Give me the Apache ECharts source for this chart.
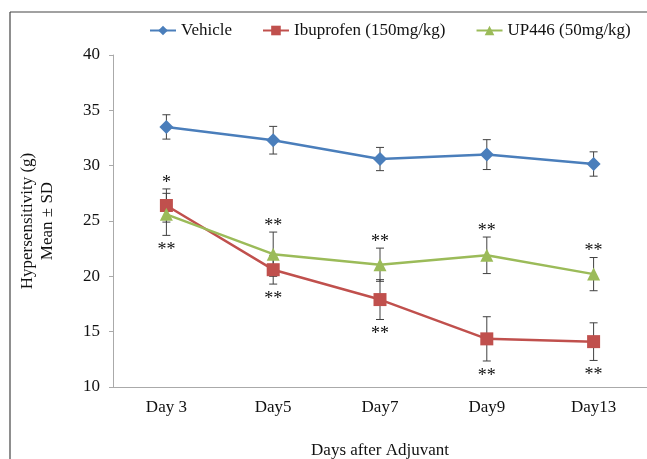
<!DOCTYPE html>
<html>
<head>
<meta charset="utf-8">
<script src="https://cdn.jsdelivr.net/npm/echarts@6/dist/echarts.min.js"></script>
<style>html,body{margin:0;padding:0;background:#fff;overflow:hidden;}#c{width:647px;height:459px;}</style>
</head>
<body>
<div id="c"></div>
<script>
var categories = ['Day 3', 'Day5', 'Day7', 'Day9', 'Day13'];
var seriesNames = ['Vehicle', 'Ibuprofen (150mg/kg)', 'UP446 (50mg/kg)'];
var vehicleMean = [33.5, 32.3, 30.6, 31.0, 30.15];
var vehicleSD = [1.1, 1.25, 1.05, 1.35, 1.1];
var ibuMean = [26.4, 20.6, 17.9, 14.35, 14.1];
var ibuSD = [1.5, 1.3, 1.8, 2.0, 1.7];
var upMean = [25.6, 22.0, 21.05, 21.9, 20.2];
var upSD = [1.9, 2.0, 1.5, 1.65, 1.5];
var ibuSig = ['*', '**', '**', '**', '**'];
var ibuSigPos = ['top', 'bottom', 'bottom', 'bottom', 'bottom'];
var upSig = ['**', '**', '**', '**', '**'];
var upSigPos = ['bottom', 'top', 'top', 'top', 'top'];
var yTicks = [10, 15, 20, 25, 30, 35, 40];

var colors = ['#4a7ebb', '#c0504d', '#9bbb59'];
var FONT = '"Liberation Serif", "DejaVu Serif", serif';

function errSeries(mean, sd, sig, sigPos) {
  return {
    type: 'custom',
    z: 1,
    silent: true,
    data: mean.map(function (m, i) { return [i, m, sd[i]]; }),
    renderItem: function (params, api) {
      var i = api.value(0), m = api.value(1), s = api.value(2);
      var hi = api.coord([i, m + s]);
      var lo = api.coord([i, m - s]);
      var cw = 4;
      var children = [
        { type: 'line', shape: { x1: hi[0], y1: hi[1], x2: lo[0], y2: lo[1] }, style: { stroke: '#404040', lineWidth: 1 } },
        { type: 'line', shape: { x1: hi[0] - cw, y1: hi[1], x2: hi[0] + cw, y2: hi[1] }, style: { stroke: '#404040', lineWidth: 1 } },
        { type: 'line', shape: { x1: lo[0] - cw, y1: lo[1], x2: lo[0] + cw, y2: lo[1] }, style: { stroke: '#404040', lineWidth: 1 } }
      ];
      if (sig) {
        var idx = params.dataIndex;
        var t = sig[idx];
        if (t) {
          var top = sigPos[idx] === 'top';
          children.push({
            type: 'text',
            style: {
              text: t, x: hi[0], y: top ? hi[1] - 6 : lo[1] + 15,
              textAlign: 'center', textVerticalAlign: 'middle',
              font: '18px ' + FONT, fill: '#111'
            }
          });
        }
      }
      return { type: 'group', children: children };
    }
  };
}

var chart = echarts.init(document.getElementById('c'), null, { renderer: 'canvas', width: 647, height: 459 });
chart.setOption({
  animation: false,
  backgroundColor: '#fff',
  color: colors,
  textStyle: { fontFamily: FONT },
  graphic: [
    { type: 'line', shape: { x1: 10, y1: 12, x2: 647, y2: 12 }, style: { stroke: '#444', lineWidth: 1.2 } },
    { type: 'line', shape: { x1: 10, y1: 12, x2: 10, y2: 459 }, style: { stroke: '#444', lineWidth: 1.2 } }
  ],
  legend: {
    top: 17,
    left: 144,
    width: 503,
    itemGap: 30,
    itemWidth: 26,
    itemHeight: 12,
    textStyle: { fontFamily: FONT, fontSize: 17, color: '#111' },
    data: seriesNames
  },
  grid: { left: 113, right: 0, top: 55, bottom: 72, containLabel: false, outerBoundsMode: 'none' },
  xAxis: {
    type: 'category',
    data: categories,
    boundaryGap: true,
    name: 'Days after Adjuvant',
    nameLocation: 'middle',
    nameGap: 55,
    nameTextStyle: { fontFamily: FONT, fontSize: 17, color: '#111' },
    axisLine: { lineStyle: { color: '#aaa' } },
    axisTick: { lineStyle: { color: '#aaa' }, length: 4 },
    axisLabel: { fontFamily: FONT, fontSize: 17, color: '#111', margin: 12 }
  },
  yAxis: {
    type: 'value',
    min: yTicks[0],
    max: yTicks[yTicks.length - 1],
    interval: 5,
    name: 'Hypersensitivity (g)\nMean ± SD',
    nameLocation: 'middle',
    nameGap: 55,
    nameRotate: 90,
    nameTextStyle: { fontFamily: FONT, fontSize: 17, color: '#111', lineHeight: 20 },
    splitLine: { show: false },
    axisLine: { show: true, lineStyle: { color: '#aaa' } },
    axisTick: { show: true, lineStyle: { color: '#aaa' }, length: 4 },
    axisLabel: { fontFamily: FONT, fontSize: 17, color: '#111', margin: 13 }
  },
  series: [
    { name: seriesNames[0], type: 'line', data: vehicleMean, symbol: 'diamond', symbolSize: 14, z: 3,
      lineStyle: { width: 2.5, color: colors[0] }, itemStyle: { color: colors[0] } },
    { name: seriesNames[1], type: 'line', data: ibuMean, symbol: 'rect', symbolSize: 13, z: 3,
      lineStyle: { width: 2.5, color: colors[1] }, itemStyle: { color: colors[1] } },
    { name: seriesNames[2], type: 'line', data: upMean, symbol: 'triangle', symbolSize: 13, z: 4,
      lineStyle: { width: 2.5, color: colors[2] }, itemStyle: { color: colors[2] } },
    errSeries(vehicleMean, vehicleSD, null, null),
    errSeries(ibuMean, ibuSD, ibuSig, ibuSigPos),
    errSeries(upMean, upSD, upSig, upSigPos)
  ]
});
</script>
</body>
</html>
